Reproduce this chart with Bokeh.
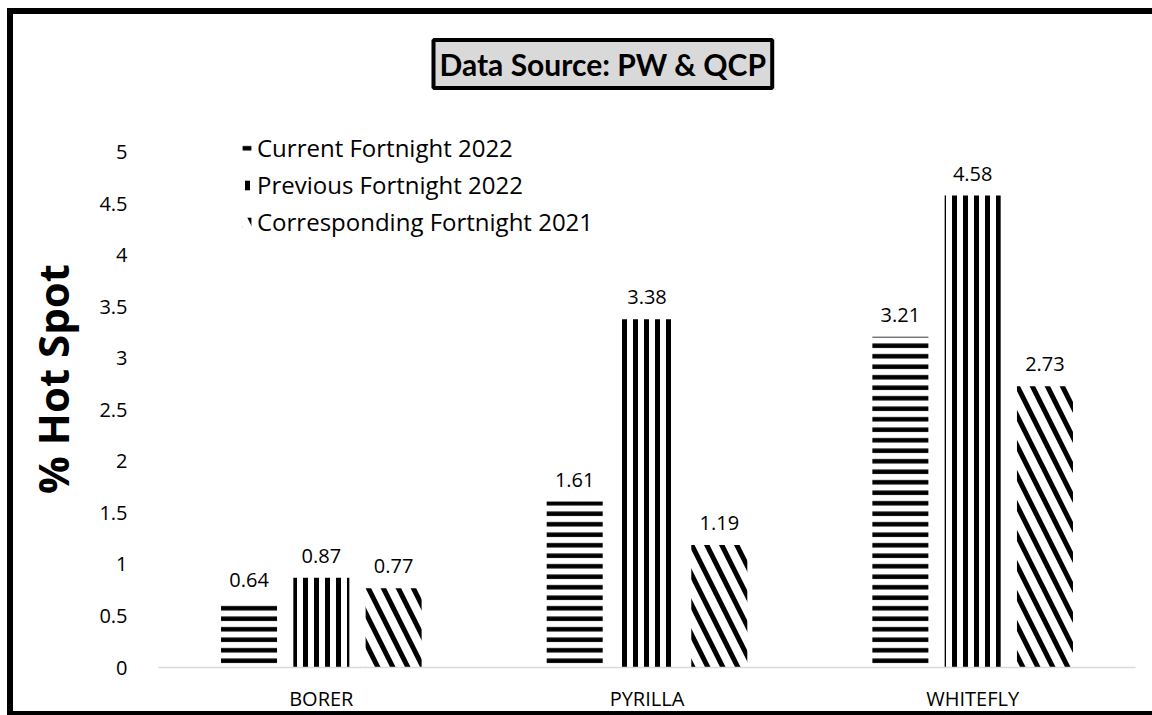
from bokeh.plotting import figure
from bokeh.models import (FactorRange, Range1d, FixedTicker, Legend, LegendItem,
                          ColumnDataSource, NumeralTickFormatter)
from bokeh.transform import dodge
from bokeh.core.properties import value
from bokeh.embed import file_html
from bokeh.resources import INLINE

# ---- data ----
categories = ["BORER", "PYRILLA", "WHITEFLY"]
series_names = ["Current Fortnight 2022", "Previous Fortnight 2022", "Corresponding Fortnight 2021"]
current_2022 = [0.64, 1.61, 3.21]
previous_2022 = [0.87, 3.38, 4.58]
corresponding_2021 = [0.77, 1.19, 2.73]
y_ticks = [0, 0.5, 1, 1.5, 2, 2.5, 3, 3.5, 4, 4.5, 5]
y_tick_labels = ["0", "0.5", "1", "1.5", "2", "2.5", "3", "3.5", "4", "4.5", "5"]
title_text = "Data Source: PW & QCP"
y_title = "% Hot Spot"

FONT = "Open Sans"
TITLE_FONT = "Lato"

src = ColumnDataSource(dict(
    cat=categories,
    cur=current_2022, prev=previous_2022, corr=corresponding_2021,
    cur_l=[f"{v:.2f}" for v in current_2022],
    prev_l=[f"{v:.2f}" for v in previous_2022],
    corr_l=[f"{v:.2f}" for v in corresponding_2021],
))

p = figure(x_range=FactorRange(*categories, range_padding=0),
           y_range=Range1d(0, 5.6),
           width=1145, height=707,
           output_backend="svg", toolbar_location=None,
           min_border_left=145, min_border_right=23,
           min_border_top=76, min_border_bottom=54)
p.styles = {"margin-left": "7px", "margin-top": "8px",
            "border-top": "6px solid black", "border-left": "6px solid black",
            "border-bottom": "4px solid black"}
p.outline_line_color = None
p.xgrid.visible = False
p.ygrid.visible = False
p.background_fill_color = "white"
p.border_fill_color = "white"

# boxed source note as the figure title
p.title.text = title_text
p.title.align = "left"
p.title.offset = 275
p.title.standoff = 5
p.title.text_font = TITLE_FONT
p.title.text_font_style = "bold"
p.title.text_font_size = "30px"
p.title.text_color = "black"
p.title.background_fill_color = "#d9d9d9"
p.title.border_line_color = "black"
p.title.border_line_width = 4
p.title.padding = 6

OFF = 0.222
W = 0.172
cols = [("cur", "cur_l", -OFF, "horizontal_line", 10.5, 4.5),
        ("prev", "prev_l", 0.0, "vertical_line", 11, 5),
        ("corr", "corr_l", OFF, "left_diagonal_line", 30, 5)]
renderers = []
for field, lbl, off, hatch, hs, hw in cols:
    r = p.vbar(x=dodge("cat", off, range=p.x_range), top=field, width=W, source=src,
               fill_color="white", line_color=None,
               hatch_pattern=hatch, hatch_color="black", hatch_scale=hs, hatch_weight=hw)
    renderers.append(r)
    p.text(x=dodge("cat", off, range=p.x_range), y=field, text=lbl, source=src,
           text_align="center", text_baseline="alphabetic", y_offset=-22,
           text_font=value(FONT), text_font_size="20px", text_color="black")

legend = Legend(items=[LegendItem(label=n, renderers=[r]) for n, r in zip(series_names, renderers)],
                location=(83, 429), glyph_width=11, glyph_height=12, label_standoff=5,
                spacing=4, padding=0, margin=0, border_line_color=None,
                background_fill_alpha=0, label_text_font=FONT,
                label_text_font_size="24px", label_text_color="black", label_height=20)
p.add_layout(legend)

# y axis
p.yaxis.ticker = FixedTicker(ticks=y_ticks)
p.yaxis.formatter = NumeralTickFormatter(format="0.[0]")
p.yaxis.major_label_overrides = {t: l for t, l in zip(y_ticks, y_tick_labels)}
p.yaxis.axis_line_color = None
p.yaxis.major_tick_line_color = None
p.yaxis.minor_tick_line_color = None
p.yaxis.major_label_standoff = 25
p.yaxis.major_label_text_font = FONT
p.yaxis.major_label_text_font_size = "20px"
p.yaxis.major_label_text_color = "black"
p.yaxis.axis_label = y_title
p.yaxis.axis_label_text_font = FONT
p.yaxis.axis_label_text_font_style = "bold"
p.yaxis.axis_label_text_font_size = "42px"
p.yaxis.axis_label_text_color = "black"
p.yaxis.axis_label_standoff = 15

# x axis
p.xaxis.axis_line_color = "#d9d9d9"
p.xaxis.axis_line_width = 1.5
p.xaxis.major_tick_line_color = None
p.xaxis.minor_tick_line_color = None
p.xaxis.major_label_standoff = 11
p.xaxis.major_label_text_font = FONT
p.xaxis.major_label_text_font_size = "20px"
p.xaxis.major_label_text_color = "black"

open("out.html", "w").write(file_html(p, INLINE))
